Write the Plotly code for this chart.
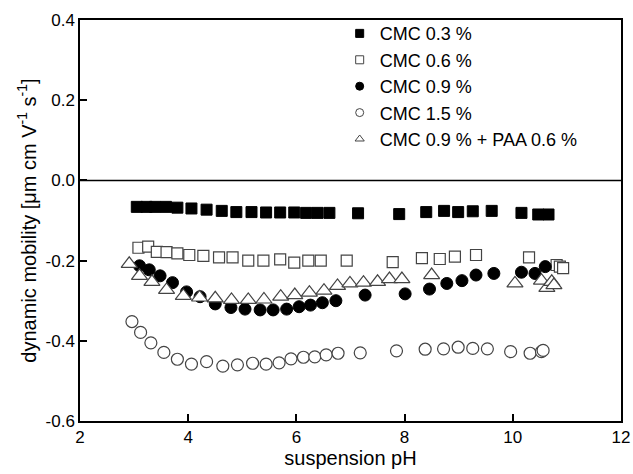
import plotly.graph_objects as go

# ---- data ----
ph_cmc03 = [3.05, 3.23, 3.39, 3.59, 3.80, 4.06, 4.34, 4.62, 4.89, 5.17, 5.44, 5.70, 5.96, 6.18, 6.39, 6.61,
            7.14, 7.90, 8.40, 8.73, 8.99, 9.26, 9.61, 10.16, 10.47, 10.66]
mob_cmc03 = [-0.066, -0.066, -0.066, -0.066, -0.068, -0.070, -0.073, -0.076, -0.079, -0.079, -0.080, -0.080, -0.080,
             -0.081, -0.081, -0.081, -0.082, -0.084, -0.079, -0.076, -0.079, -0.077, -0.076, -0.081, -0.085, -0.085]

ph_cmc06 = [3.08, 3.26, 3.42, 3.60, 3.80, 4.02, 4.28, 4.57, 4.82, 5.11, 5.39, 5.70, 5.96, 6.22, 6.45, 6.93,
            7.78, 8.32, 8.65, 8.93, 9.32, 10.30, 10.81, 10.87, 10.93]
mob_cmc06 = [-0.168, -0.165, -0.178, -0.179, -0.182, -0.186, -0.188, -0.192, -0.192, -0.200, -0.200, -0.197,
             -0.205, -0.200, -0.200, -0.200, -0.204, -0.194, -0.196, -0.190, -0.186, -0.192, -0.211, -0.215, -0.219]

ph_cmc09 = [3.10, 3.28, 3.48, 3.71, 3.97, 4.22, 4.50, 4.79, 5.05, 5.33, 5.57, 5.82, 6.05, 6.26, 6.48, 6.73,
            7.27, 8.01, 8.46, 8.78, 9.06, 9.32, 9.65, 10.16, 10.41, 10.60]
mob_cmc09 = [-0.213, -0.223, -0.238, -0.255, -0.278, -0.290, -0.308, -0.317, -0.321, -0.323, -0.323, -0.321,
             -0.315, -0.311, -0.305, -0.300, -0.286, -0.283, -0.271, -0.257, -0.250, -0.236, -0.232, -0.229,
             -0.232, -0.215]

ph_cmc15 = [2.96, 3.12, 3.31, 3.55, 3.80, 4.06, 4.34, 4.64, 4.91, 5.19, 5.44, 5.68, 5.90, 6.13, 6.34, 6.55,
            6.77, 7.18, 7.85, 8.38, 8.72, 8.99, 9.26, 9.53, 9.96, 10.32, 10.53, 10.56]
mob_cmc15 = [-0.352, -0.379, -0.405, -0.429, -0.446, -0.458, -0.452, -0.463, -0.460, -0.456, -0.458, -0.455,
             -0.445, -0.441, -0.440, -0.435, -0.431, -0.430, -0.425, -0.421, -0.420, -0.416, -0.419, -0.420,
             -0.427, -0.431, -0.427, -0.424]

ph_paa = [2.91, 3.10, 3.33, 3.60, 3.91, 4.21, 4.50, 4.80, 5.11, 5.40, 5.71, 5.97, 6.24, 6.51, 6.76, 6.99,
          7.24, 7.50, 7.72, 7.95, 8.50, 10.04, 10.53, 10.63, 10.72, 10.76]
mob_paa = [-0.208, -0.238, -0.253, -0.273, -0.288, -0.292, -0.294, -0.298, -0.298, -0.297, -0.290, -0.286,
           -0.280, -0.275, -0.263, -0.257, -0.255, -0.253, -0.246, -0.246, -0.236, -0.257, -0.250, -0.268,
           -0.253, -0.261]

series_names = ["CMC 0.3 %", "CMC 0.6 %", "CMC 0.9 %", "CMC 1.5 %", "CMC 0.9 % + PAA 0.6 %"]

x_tickvals = [2, 4, 6, 8, 10, 12]
x_ticktext = ["2", "4", "6", "8", "10", "12"]
y_tickvals = [-0.6, -0.4, -0.2, 0.0, 0.2, 0.4]
y_ticktext = ["-0.6", "-0.4", "-0.2", "0.0", "0.2", "0.4"]

# ---- styles ----
styles = [
    dict(symbol="square", color="black", line=dict(color="black", width=1), size=11),
    dict(symbol="square", color="white", line=dict(color="#444", width=1.2), size=11),
    dict(symbol="circle", color="black", line=dict(color="black", width=1), size=12),
    dict(symbol="circle", color="white", line=dict(color="#444", width=1.2), size=12),
    dict(symbol="triangle-up", color="white", line=dict(color="#444", width=1.2), size=14),
]
xs = [ph_cmc03, ph_cmc06, ph_cmc09, ph_cmc15, ph_paa]
ys = [mob_cmc03, mob_cmc06, mob_cmc09, mob_cmc15, mob_paa]

fig = go.Figure()
for x, y, st, name in zip(xs, ys, styles, series_names):
    fig.add_trace(go.Scatter(x=x, y=y, mode="markers", name=name, showlegend=False,
                             marker=dict(symbol=st["symbol"], color=st["color"], size=st["size"],
                                         line=st["line"])))
# small legend markers
for st, name in zip(styles, series_names):
    fig.add_trace(go.Scatter(x=[None], y=[None], mode="markers", name=name, showlegend=True,
                             marker=dict(symbol=st["symbol"], color=st["color"], size=8,
                                         line=dict(color=st["line"]["color"], width=1))))

fig.add_shape(type="line", xref="paper", x0=0, x1=1, yref="y", y0=0, y1=0,
              line=dict(color="black", width=1.5))

font = "Liberation Sans, Arial, sans-serif"
fig.update_layout(
    width=633, height=474,
    margin=dict(l=80, r=12, t=20, b=53),
    paper_bgcolor="white", plot_bgcolor="white",
    font=dict(family=font, size=17, color="black"),
    legend=dict(x=0.48, y=1.012, xanchor="left", yanchor="top", bgcolor="rgba(0,0,0,0)",
                font=dict(size=18, family=font), tracegroupgap=0),
    xaxis=dict(range=[2, 12], tickvals=x_tickvals, ticktext=x_ticktext, showgrid=False, zeroline=False,
               ticks="inside", ticklen=7, tickwidth=1.5, tickcolor="black", automargin=False,
               showline=True, linecolor="black", linewidth=1.5, mirror=True,
               title=dict(text="suspension pH", font=dict(size=20), standoff=4)),
    yaxis=dict(range=[-0.6, 0.4], tickvals=y_tickvals, ticktext=y_ticktext, showgrid=False, zeroline=False,
               ticks="inside", ticklen=7, tickwidth=1.5, tickcolor="black", automargin=False,
               showline=True, linecolor="black", linewidth=1.5, mirror=True,
               title=dict(text="dynamic mobility [μm cm V<sup>-1</sup> s<sup>-1</sup>]", font=dict(size=20),
                          standoff=4)),
)

fig.write_html("out.html", config={"displayModeBar": False},
               post_script="document.body.style.margin='0';")
